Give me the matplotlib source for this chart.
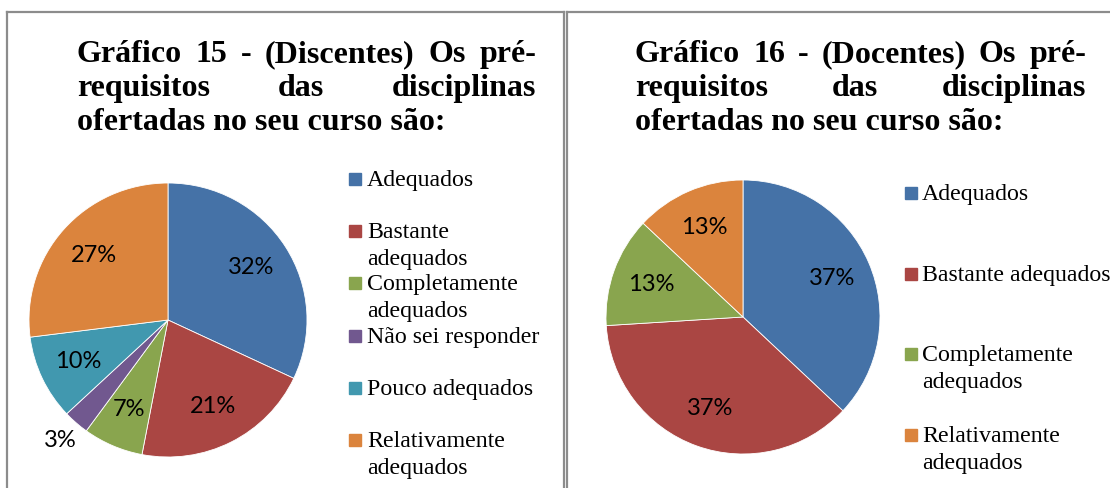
import matplotlib
matplotlib.use("Agg")
import matplotlib.pyplot as plt
from matplotlib.lines import Line2D
from matplotlib.patches import Rectangle
import numpy as np

# data
disc_labels = ["Adequados", "Bastante\nadequados", "Completamente\nadequados",
               "Não sei responder", "Pouco adequados", "Relativamente\nadequados"]
disc_values = [32, 21, 7, 3, 10, 27]
disc_colors = ["#4572A7", "#AA4643", "#89A54E", "#71588F", "#4198AF", "#DB843D"]

doc_labels = ["Adequados", "Bastante adequados", "Completamente\nadequados",
              "Relativamente\nadequados"]
doc_values = [37, 37, 13, 13]
doc_colors = ["#4572A7", "#AA4643", "#89A54E", "#DB843D"]

disc_title = ["Gráfico 15 - (Discentes) Os pré-", "requisitos das disciplinas",
              "ofertadas no seu curso são:"]
doc_title = ["Gráfico 16 - (Docentes) Os pré-", "requisitos das disciplinas",
             "ofertadas no seu curso são:"]

W, H = 1110, 488
fig = plt.figure(figsize=(W / 100, H / 100), dpi=100)
fig.patch.set_facecolor("white")
renderer = fig.canvas.get_renderer()


def fx(x):
    return x / W


def fy(y):
    return 1 - y / H


def hline(x0, x1, y):
    fig.add_artist(Line2D([fx(x0), fx(x1)], [fy(y), fy(y)], color="#8c8c8c", lw=1.6,
                          transform=fig.transFigure))


def vline(x, y0, y1):
    fig.add_artist(Line2D([fx(x), fx(x)], [fy(y0), fy(y1)], color="#8c8c8c", lw=1.6,
                          transform=fig.transFigure))


# panel borders
hline(7, 564, 12)
vline(7, 12, H)
vline(564, 12, H)
hline(567, W, 12)
vline(567, 12, H)


def title(lines, x0, x1, y0, step):
    kw = dict(family="Liberation Serif", fontweight="bold", fontsize=23, va="baseline")
    for i, line in enumerate(lines):
        y = fy(y0 + i * step)
        words = line.split(" ")
        if i == len(lines) - 1:
            fig.text(fx(x0), y, line, ha="left", **kw)
            continue
        texts = [fig.text(0, y, w, ha="left", **kw) for w in words]
        widths = [t.get_window_extent(renderer).width for t in texts]
        gap = (x1 - x0 - sum(widths)) / (len(words) - 1)
        x = x0
        for t, w in zip(texts, widths):
            t.set_x(fx(x))
            x += w + gap


def pie(values, colors, box):
    l, t, r, b = box
    ax = fig.add_axes([fx(l), fy(b), fx(r - l), (b - t) / H])
    wedges, _, autotexts = ax.pie(
        values, colors=colors, startangle=90, counterclock=False,
        autopct=lambda p: f"{p:.0f}%", pctdistance=0.71,
        wedgeprops=dict(edgecolor="white", linewidth=0.6),
        textprops=dict(family="Lato", fontsize=17, color="black"))
    for w, at, v in zip(wedges, autotexts, values):
        if v < 5:
            ang = np.deg2rad((w.theta1 + w.theta2) / 2)
            at.set_position((1.17 * np.cos(ang), 1.17 * np.sin(ang)))
    ax.set_aspect("auto")
    ax.set_xlim(-1, 1)
    ax.set_ylim(-1, 1)
    return ax


def legend(labels, colors, xs, xt, y0, step):
    for i, (lab, c) in enumerate(zip(labels, colors)):
        base = y0 + i * step
        fig.add_artist(Rectangle((fx(xs), fy(base - 1)), 12 / W, 12 / H, color=c,
                                 transform=fig.transFigure))
        for j, part in enumerate(lab.split("\n")):
            fig.text(fx(xt), fy(base + 27 * j), part, family="Liberation Serif",
                     fontsize=17.2, va="baseline", ha="left")


title(disc_title, 77, 536, 62, 34)
title(doc_title, 635, 1086, 62, 34)

pie(disc_values, disc_colors, (29, 183, 307, 457))
pie(doc_values, doc_colors, (606, 180, 880, 454))

legend(disc_labels, disc_colors, 349, 367, 186, 52.2)
legend(doc_labels, doc_colors, 905, 922, 200, 80.7)

fig.savefig("out.png", dpi=100, facecolor="white")
